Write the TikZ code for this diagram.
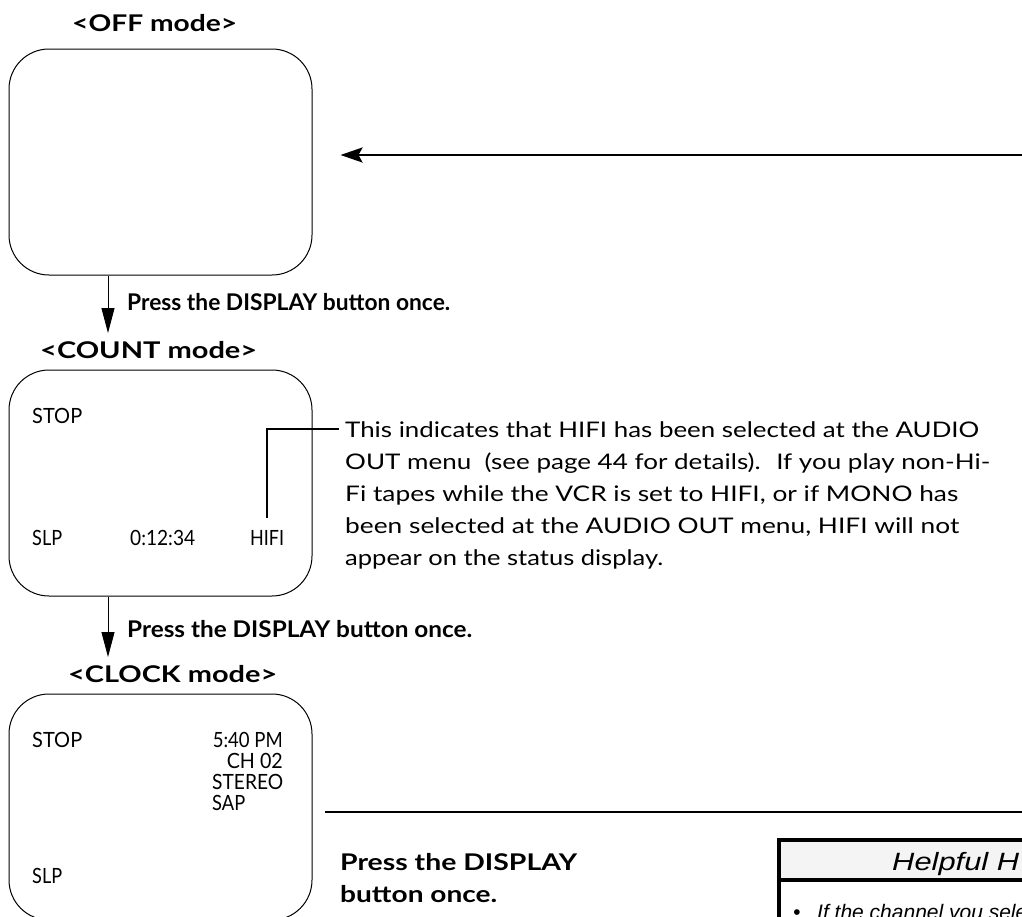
\documentclass[tikz,border=0pt]{standalone}
\usepackage{fontspec}
\usepackage{graphicx}
\usetikzlibrary{arrows.meta}
\newfontfamily\bodyfont{Lato}
\newfontfamily\hintfont{Liberation Sans}
\newcommand{\hw}[2]{\resizebox{#1}{\height}{#2}}
\definecolor{hintgray}{RGB}{244,244,244}
\begin{document}
\begin{tikzpicture}[x=1pt,y=-1pt,
  screen/.style={draw, line width=1pt, rounded corners=40pt, minimum width=303pt, minimum height=226pt, inner sep=0pt},
  lcd/.style={anchor=base west, inner sep=0pt, font=\bodyfont\fontsize{21pt}{25pt}\selectfont},
  lcdr/.style={lcd, anchor=base east},
  modehead/.style={anchor=base west, inner sep=0pt, font=\bodyfont\bfseries\fontsize{23pt}{27pt}\selectfont},
  press/.style={modehead},
  para/.style={anchor=base west, inner sep=0pt, font=\bodyfont\fontsize{21.5pt}{25pt}\selectfont},
  flow/.style={-{Triangle[length=25pt,width=13pt]}, line width=1pt},
  leader/.style={line width=2.5pt},
  back/.style={-{Stealth[length=22pt,width=15pt,inset=4pt]}, line width=2.5pt},
  rule/.style={line width=2.5pt},
  hintframe/.style={line width=4pt},
  hinttitle/.style={anchor=base west, inner sep=0pt, font=\hintfont\itshape\fontsize{25pt}{29pt}\selectfont},
  hinttext/.style={anchor=base west, inner sep=0pt, font=\hintfont\itshape\fontsize{21pt}{25pt}\selectfont},
]
\useasboundingbox (0,0) rectangle (1022,916);
\clip (0,0) rectangle (1022,916);

% OFF mode
\node[modehead] (hoff) at (72,31) {\hw{165pt}{<OFF mode>}};
\node[screen] (off) at (160.5,162) {};
\coordinate (backstart) at (1030,155);
\draw[back, shorten >=28pt] (backstart) -- (off.east |- backstart);

% arrow 1
\coordinate (a1) at (108,333);
\draw[flow] (a1 |- off.south) -- (a1);
\node[press] (p1) at (127,310) {\hw{323pt}{Press the DISPLAY button once.}};

% COUNT mode
\node[modehead] (hcount) at (40,358) {\hw{217pt}{<COUNT mode>}};
\node[screen] (count) at (160.5,483) {};
\node[lcd] (cstop) at (32,423) {\hw{50pt}{STOP}};
\node[lcd] (cslp) at (32,545) {\hw{30pt}{SLP}};
\node[lcd] (ctime) at (130,545) {\hw{65pt}{0:12:34}};
\node[lcd] (chifi) at (250,545) {\hw{34pt}{HIFI}};

\node[para] (par1) at (345,437) {\hw{634pt}{This indicates that HIFI has been selected at the AUDIO}};
\node[para] (par2) at (345,469) {\hw{645pt}{OUT menu~ (see page 44 for details).~ If you play non-Hi-}};
\node[para] (par3) at (345,501) {\hw{613pt}{Fi tapes while the VCR is set to HIFI, or if MONO has}};
\node[para] (par4) at (345,533) {\hw{614pt}{been selected at the AUDIO OUT menu, HIFI will not}};
\node[para] (par5) at (345,565) {\hw{318pt}{appear on the status display.}};
\draw[leader] ([yshift=12pt]chifi.north) |- ([xshift=-6pt]par1.west);

% arrow 2
\coordinate (a2) at (108,657);
\draw[flow] (a2 |- count.south) -- (a2);
\node[press] (p2) at (127,637) {\hw{345pt}{Press the DISPLAY button once.}};

% CLOCK mode
\node[modehead] (hclock) at (68,682) {\hw{209pt}{<CLOCK mode>}};
\node[screen] (clock) at (160.5,807) {};
\node[lcd] (kstop) at (32,747) {\hw{50pt}{STOP}};
\node[lcdr] (ktime) at (283,747) {\hw{70pt}{5:40 PM}};
\node[lcdr] (kch) at (283,768) {\hw{56pt}{CH 02}};
\node[lcd] (kstereo) at (212,789) {\hw{71pt}{STEREO}};
\node[lcd] (ksap) at (212,810) {\hw{33pt}{SAP}};
\node[lcd] (kslp) at (32,883) {\hw{30pt}{SLP}};

% rule and lower text
\coordinate (rulea) at (325,812);
\coordinate (ruleb) at (1030,812);
\draw[rule] (rulea) -- (ruleb);
\node[press] (p3) at (340,870) {\hw{237pt}{Press the DISPLAY}};
\node[press] (p4) at (340,902) {\hw{157pt}{button once.}};

% helpful hints box
\fill[white] (779,840) rectangle (1100,1000);
\fill[hintgray] (779,840) rectangle (1100,880);
\draw[hintframe] (779,1000) -- (779,840) -- (1100,840);
\draw[hintframe] (779,880) -- (1100,880);
\node[hinttitle] (htitle) at (892,870) {\hw{127pt}{Helpful H}};
\node[hinttext] (hbullet) at (793,919) {•};
\node[hinttext] (hline) at (817,919) {If the channel you select};
\end{tikzpicture}
\end{document}
